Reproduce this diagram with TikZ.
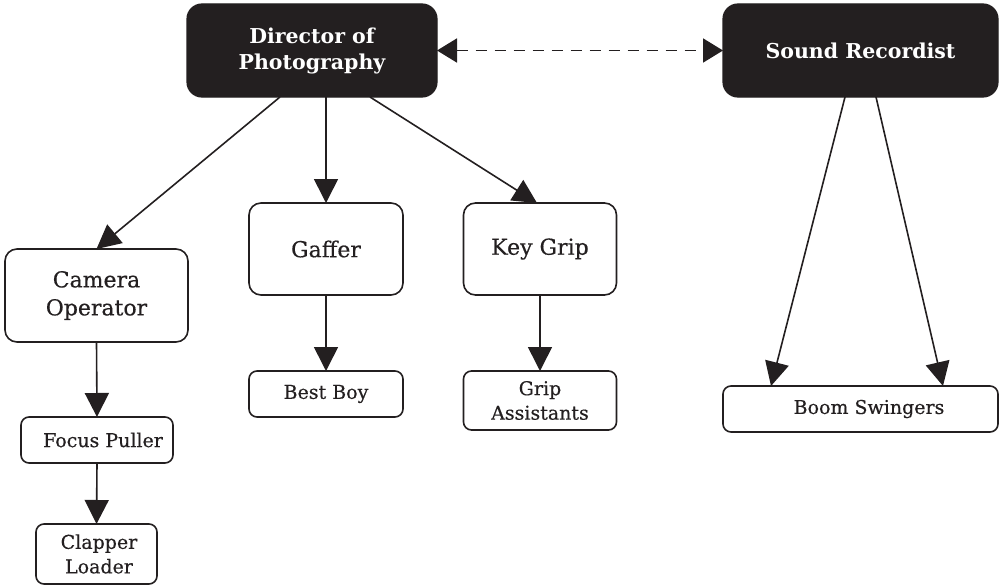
\documentclass[tikz,border=0pt]{standalone}
\usepackage{fontspec}
\setmainfont{DejaVu Serif}[FakeBold=0.4]
\newfontfamily\headfont{DejaVu Serif}
\usetikzlibrary{arrows.meta}
\definecolor{ink}{HTML}{231F20}
\begin{document}
\begin{tikzpicture}[x=1pt,y=-1pt,
  lead/.style={fill=ink, draw=ink, line width=1.2pt, rounded corners=15pt,
    text=white, inner sep=0pt, outer sep=0pt, align=center,
    font=\headfont\fontsize{20.5}{26}\selectfont\bfseries},
  crew/.style={draw=ink, line width=1.6pt, rounded corners=12pt, fill=white,
    text=ink, inner sep=0pt, outer sep=0pt, align=center,
    font=\fontsize{22}{28}\selectfont},
  helper/.style={draw=ink, line width=1.6pt, rounded corners=8pt, fill=white,
    text=ink, inner sep=0pt, outer sep=0pt, align=center,
    font=\fontsize{19}{24.5}\selectfont},
  conn/.style={draw=ink, line width=1.6pt, -{Triangle[length=24pt, width=24pt]}},
  link/.style={draw=ink, line width=1.8pt, dash pattern=on 11pt off 8pt,
    {Triangle[length=20pt, width=24pt]}-{Triangle[length=20pt, width=24pt]}}
]
\useasboundingbox (0,0) rectangle (1001,586);

% heads of department
\node[lead, minimum width=250pt, minimum height=93pt] (dop) at (312,50.5) {Director of\\Photography};
\node[lead, minimum width=275pt, minimum height=93pt] (snd) at (860.5,50.5) {Sound Recordist};

% camera, lighting and grip crews
\node[crew, minimum width=183pt, minimum height=93pt] (cam) at (96.5,295.5) {Camera\\Operator};
\node[crew, minimum width=154pt, minimum height=92pt] (gaf) at (326,249) {\raisebox{-5pt}{Gaffer}};
\node[crew, minimum width=153pt, minimum height=92pt] (key) at (540,249) {Key Grip};

% assistants
\node[helper, minimum width=154pt, minimum height=46pt] (best) at (326,394) {Best Boy};
\node[helper, minimum width=153pt, minimum height=59pt] (grip) at (540,400.5) {Grip\\Assistants};
\node[helper, minimum width=152pt, minimum height=46pt] (focus) at (97,440) {\hspace*{12pt}Focus Puller};
\node[helper, minimum width=121pt, minimum height=60pt] (clap) at (96.5,554) {\hspace*{5pt}Clapper\\\hspace*{5pt}Loader};
\node[helper, minimum width=275pt, minimum height=46pt] (boom) at (860.5,409) {\hspace*{17pt}Boom Swingers};

% reporting lines
\draw[conn] ([xshift=-32pt]dop.south) -- (cam.north);
\draw[conn] ([xshift=14pt]dop.south) -- (gaf.north);
\draw[conn] ([xshift=58pt]dop.south) -- ([xshift=-3pt]key.north);
\draw[conn] (cam.south) -- (focus.north);
\draw[conn] (focus.south) -- (clap.north);
\draw[conn] (gaf.south) -- (best.north);
\draw[conn] (key.south) -- (grip.north);
\draw[conn] ([xshift=-15.5pt]snd.south) -- ([xshift=-89.5pt]boom.north);
\draw[conn] ([xshift=15.5pt]snd.south) -- ([xshift=82.5pt]boom.north);

% coordination between departments
\draw[link] (dop.east) -- (snd.west);
\end{tikzpicture}
\end{document}
